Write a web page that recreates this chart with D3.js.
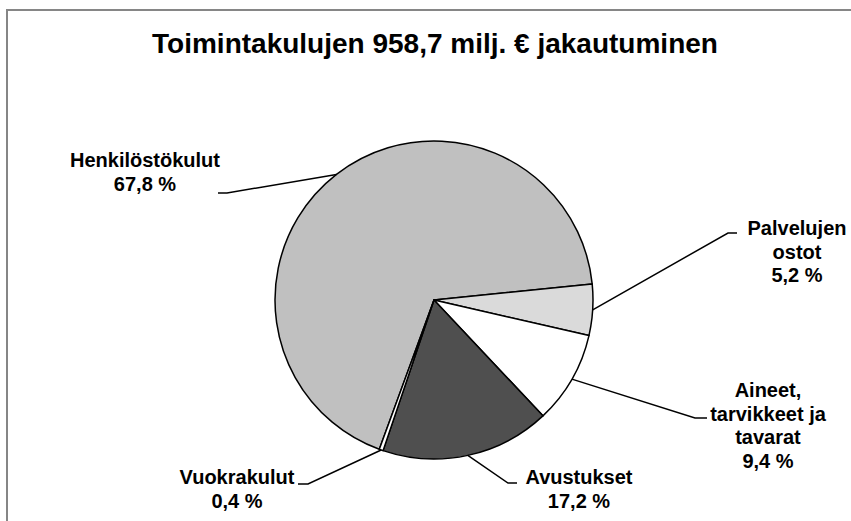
<!DOCTYPE html>
<html>
<head>
<meta charset="utf-8">
<script src="https://cdn.jsdelivr.net/npm/d3@7"></script>
<style>
  body { margin: 0; background: #fff; }
  svg text { font-family: "Liberation Sans", Arial, sans-serif; font-weight: bold; fill: #000; }
</style>
</head>
<body>
<div id="chart"></div>
<script>
// DATA
const title = 'Toimintakulujen 958,7 milj. € jakautuminen';
const categories = ['Henkilöstökulut', 'Palvelujen ostot', 'Aineet, tarvikkeet ja tavarat', 'Avustukset', 'Vuokrakulut'];
const values = [67.8, 5.2, 9.4, 17.2, 0.4];
const labelLines = [
  ['Henkilöstökulut', '67,8 %'],
  ['Palvelujen', 'ostot', '5,2 %'],
  ['Aineet,', 'tarvikkeet ja', 'tavarat', '9,4 %'],
  ['Avustukset', '17,2 %'],
  ['Vuokrakulut', '0,4 %']
];
const colors = ['#c0c0c0', '#dadada', '#ffffff', '#4f4f4f', '#ffffff'];

const width = 851;
const height = 521;
const cx = 434, cy = 300, radius = 159;

// where each label block sits and where its leader line bends
const labelPos = [
  { x: 145, y: 167, elbow: [227, 193], end: [218, 193] },
  { x: 797, y: 235, elbow: [728, 233], end: [737, 233] },
  { x: 768, y: 397, elbow: [695, 418], end: [707, 418] },
  { x: 579, y: 484, elbow: [508, 483], end: [517, 483] },
  { x: 237, y: 484, elbow: [308, 484], end: [298, 484] }
];

const svg = d3.select('#chart')
  .append('svg')
  .attr('width', width)
  .attr('height', height);

// frame
svg.append('rect')
  .attr('x', 7)
  .attr('y', 10)
  .attr('width', width + 20)
  .attr('height', height + 20)
  .attr('fill', '#fff')
  .attr('stroke', '#868686')
  .attr('stroke-width', 2);

svg.append('text')
  .attr('x', 435)
  .attr('y', 53)
  .attr('text-anchor', 'middle')
  .style('font-size', '28px')
  .text(title);

const data = categories.map((c, i) => ({ name: c, value: values[i], lines: labelLines[i], color: colors[i], pos: labelPos[i] }));

// first slice starts so that Palvelujen ostot begins just above 3 o'clock
const startDeg = 84.2 - 360 * values[0] / 100;
const pie = d3.pie()
  .sort(null)
  .value(d => d.value)
  .startAngle(startDeg * Math.PI / 180)
  .endAngle((startDeg + 360) * Math.PI / 180);

const arcs = pie(data);
const arc = d3.arc().innerRadius(0).outerRadius(radius);
const edge = d3.arc().innerRadius(radius).outerRadius(radius);

const g = svg.append('g').attr('transform', `translate(${cx},${cy})`);

g.selectAll('path')
  .data(arcs)
  .enter()
  .append('path')
  .attr('d', arc)
  .attr('fill', d => d.data.color)
  .attr('stroke', '#000')
  .attr('stroke-width', 1.5)
  .attr('stroke-linejoin', 'round');

// leader lines
svg.selectAll('.leader')
  .data(arcs)
  .enter()
  .append('polyline')
  .attr('class', 'leader')
  .attr('fill', 'none')
  .attr('stroke', '#000')
  .attr('stroke-width', 1.5)
  .attr('points', d => {
    const c = edge.centroid(d);
    const p = d.data.pos;
    return [[c[0] + cx, c[1] + cy], p.elbow, p.end].map(q => q.join(',')).join(' ');
  });

// labels
const labels = svg.selectAll('.label')
  .data(arcs)
  .enter()
  .append('text')
  .attr('class', 'label')
  .attr('text-anchor', 'middle')
  .style('font-size', '20px')
  .attr('x', d => d.data.pos.x)
  .attr('y', d => d.data.pos.y);

labels.selectAll('tspan')
  .data(d => d.data.lines.map(t => ({ t, x: d.data.pos.x })))
  .enter()
  .append('tspan')
  .attr('x', d => d.x)
  .attr('dy', (d, i) => i === 0 ? 0 : 23.5)
  .text(d => d.t);
</script>
</body>
</html>
